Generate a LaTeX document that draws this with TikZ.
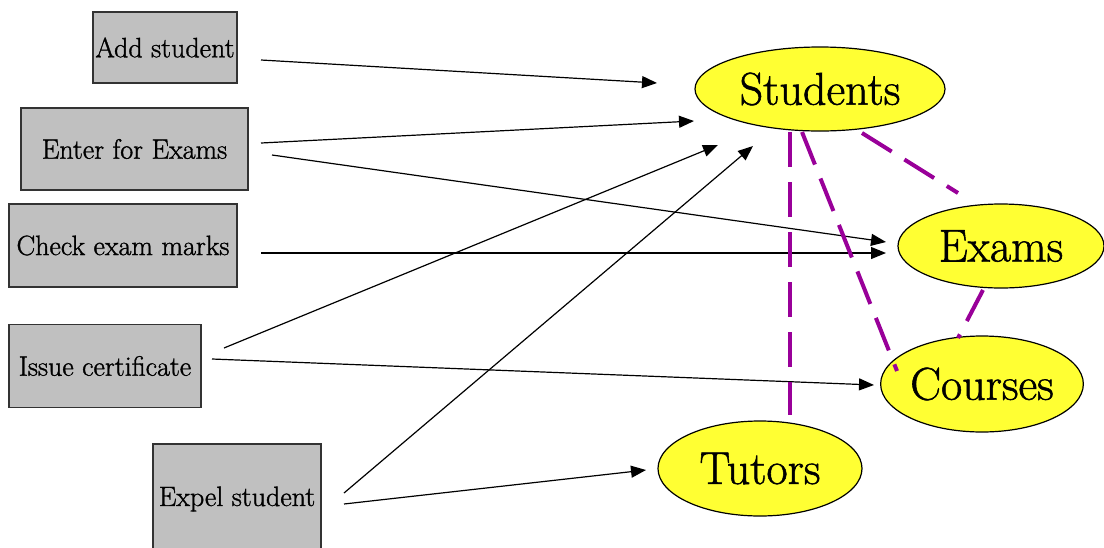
\documentclass[tikz,border=0pt]{standalone}
\usepackage{fontspec}
\setmainfont{Latin Modern Roman}[FakeBold=1.2]
\usetikzlibrary{shapes.geometric,arrows.meta}
\definecolor{boxgray}{HTML}{C0C0C0}
\definecolor{boxedge}{HTML}{333333}
\definecolor{ellyellow}{HTML}{FFFF33}
\definecolor{linkpurple}{HTML}{990099}
\begin{document}
\begin{tikzpicture}[x=1pt,y=-1pt,
  taskbox/.style={draw=boxedge, line width=1.5pt, fill=boxgray, inner sep=0pt,
    font=\rmfamily\fontsize{28}{30}\selectfont},
  entity/.style={ellipse, draw=black, line width=1.2pt, fill=ellyellow, inner sep=0pt,
    font=\rmfamily\fontsize{46}{50}\selectfont},
  flow/.style={line width=1.2pt, -{Triangle[length=15pt,width=12pt]}},
  link/.style={linkpurple, line width=4pt, dash pattern=on 35pt off 15pt}
]
\useasboundingbox (0,0) rectangle (1104,547);
\fill[white] (0,0) rectangle (1104,547);

% task boxes
\node[taskbox, minimum width=144pt, minimum height=71pt] (add)   at (165,47.5) {Add student};
\node[taskbox, minimum width=227pt, minimum height=82pt] (enter) at (134.5,149) {Enter for Exams};
\node[taskbox, minimum width=228pt, minimum height=83pt] (check) at (123,245.5) {Check exam marks};
\node[taskbox, minimum width=192pt, minimum height=83pt] (issue) at (105,366) {Issue certificate};
\node[taskbox, minimum width=168pt, minimum height=110pt] (expel) at (237,499) {Expel student};

% entities
\node[entity, minimum width=250pt, minimum height=84pt] (students) at (820,89) {Students};
\node[entity, minimum width=206pt, minimum height=84pt] (exams)    at (1001,246) {Exams};
\node[entity, minimum width=192pt, minimum height=96pt] (courses)  at (982,384) {Courses};
\node[entity, minimum width=204pt, minimum height=95pt] (tutors)   at (760,468.5) {Tutors};

% free ends of the flows
\coordinate (a1) at (261,60);   \coordinate (a2) at (657,83);
\coordinate (b1) at (261,143);  \coordinate (b2) at (694,121);
\coordinate (c1) at (272,155);  \coordinate (c2) at (886,242);
\coordinate (d1) at (261,253);  \coordinate (d2) at (886,253);
\coordinate (e1) at (224,348);  \coordinate (e2) at (718,145);
\coordinate (f1) at (212,359);  \coordinate (f2) at (874,385);
\coordinate (g1) at (344,493);  \coordinate (g2) at (753,146);
\coordinate (h1) at (344,504);  \coordinate (h2) at (646,470);

\draw[flow] (a1) -- (a2);
\draw[flow] (b1) -- (b2);
\draw[flow] (c1) -- (c2);
\draw[flow] (d1) -- (d2);
\draw[flow] (e1) -- (e2);
\draw[flow] (f1) -- (f2);
\draw[flow] (g1) -- (g2);
\draw[flow] (h1) -- (h2);

% associations
\coordinate (st1) at (790,132); \coordinate (st2) at (790,415);
\coordinate (sc1) at (802,132); \coordinate (sc2) at (897,371);
\coordinate (se1) at (862,133); \coordinate (se2) at (958,193);
\coordinate (ec1) at (983,290); \coordinate (ec2) at (958,338);
\draw[link] (st1) -- (st2);
\draw[link] (sc1) -- (sc2);
\draw[link] (se1) -- (se2);
\draw[link] (ec1) -- (ec2);
\end{tikzpicture}
\end{document}
